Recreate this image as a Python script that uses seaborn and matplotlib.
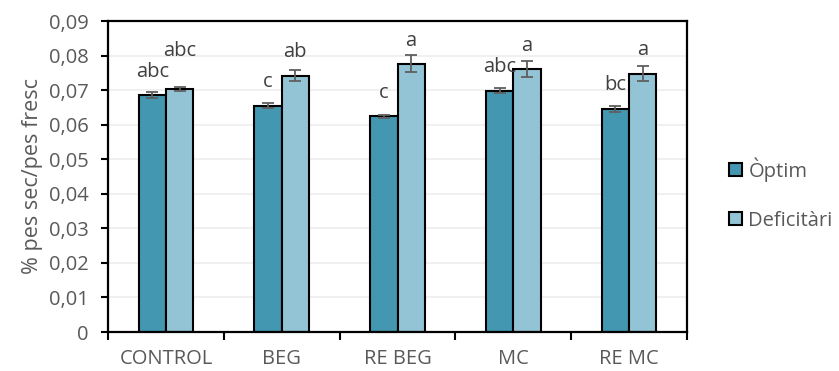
import matplotlib
matplotlib.use("Agg")
import matplotlib.pyplot as plt
import seaborn as sns
import pandas as pd
import numpy as np

# Dry weight / fresh weight ratio by treatment and irrigation regime
categories = ["CONTROL", "BEG", "RE BEG", "MC", "RE MC"]
series_names = ["Òptim", "Deficitàri"]
optim_vals = [0.0686, 0.0655, 0.0624, 0.0698, 0.0646]
optim_err = [0.0008, 0.0007, 0.0005, 0.0007, 0.0008]
defic_vals = [0.0703, 0.0742, 0.0776, 0.0761, 0.0748]
defic_err = [0.0007, 0.0016, 0.0025, 0.0023, 0.0021]
optim_letters = ["abc", "c", "c", "abc", "bc"]
defic_letters = ["abc", "ab", "a", "a", "a"]
y_ticks = [0, 0.01, 0.02, 0.03, 0.04, 0.05, 0.06, 0.07, 0.08, 0.09]

df = pd.DataFrame({
    "categoria": categories * 2,
    "reg": [series_names[0]] * len(categories) + [series_names[1]] * len(categories),
    "valor": optim_vals + defic_vals,
})
errors = [optim_err, defic_err]
letters = [optim_letters, defic_letters]

sns.set_theme(style="white")
plt.rcParams["font.family"] = ["Open Sans", "DejaVu Sans"]

fig = plt.figure(figsize=(8.39, 3.71), dpi=100)
W, H = 839, 371
ax = fig.add_axes([108 / W, (H - 332) / H, (687 - 108) / W, (332 - 21) / H])

colors = ["#4397B0", "#93C4D6"]
sns.barplot(data=df, x="categoria", y="valor", hue="reg", order=categories,
            hue_order=series_names, palette=colors, width=0.47,
            errorbar=None, edgecolor="black", linewidth=1.5, ax=ax,
            saturation=1)

text_col = "#404040"
for k, (cont, errs, labs) in enumerate(zip(ax.containers, errors, letters)):
    xs = [p.get_x() + p.get_width() / 2 for p in cont.patches]
    hs = [p.get_height() for p in cont.patches]
    ax.errorbar(xs, hs, yerr=errs, fmt="none", ecolor="#5F5F5F",
                elinewidth=1.3, capsize=4, capthick=1.3, zorder=5)
    for i, (x, h, lab) in enumerate(zip(xs, hs, labs)):
        lift = 0.0053
        # keep the two adjacent CONTROL labels from colliding
        if i == 0 and k == 1:
            lift = 0.0096
        ax.text(x, h + lift, lab, ha="center", va="baseline",
                fontsize=14.5, color=text_col, zorder=6)

ax.set_ylim(0, 0.09)
ax.set_xlim(-0.5, len(categories) - 0.5)
ax.set_yticks(y_ticks)
ax.set_yticklabels([("%g" % v).replace(".", ",") for v in y_ticks])
ax.yaxis.grid(True, color="#EEEEEE", linewidth=1.2)
ax.set_axisbelow(True)

# category boundary tick marks below the axis
ax.set_xticks(np.arange(-0.5, len(categories)), minor=True)
ax.tick_params(axis="x", which="minor", length=6, width=1.5, color="black",
               direction="out", bottom=True)
ax.tick_params(axis="x", which="major", length=0, pad=12.5, labelsize=14.5,
               labelcolor="#595959")
ax.tick_params(axis="y", length=5, width=1.5, color="black", direction="out",
               left=True, pad=9, labelsize=14.5, labelcolor="#595959")

for s in ax.spines.values():
    s.set_color("black")
    s.set_linewidth(1.6)

ax.set_xlabel("")
ax.set_ylabel("% pes sec/pes fresc", fontsize=15.5, color="#595959", labelpad=4)

handles, labels_ = ax.get_legend_handles_labels()
ax.legend(handles, labels_, loc="center left",
          bbox_to_anchor=(711 / W, (H - 194) / H),
          bbox_transform=fig.transFigure, frameon=False, fontsize=14.5,
          handlelength=0.65, handleheight=0.65, handletextpad=0.3,
          labelspacing=1.45, labelcolor="#595959")

fig.savefig("out.png", dpi=100)
